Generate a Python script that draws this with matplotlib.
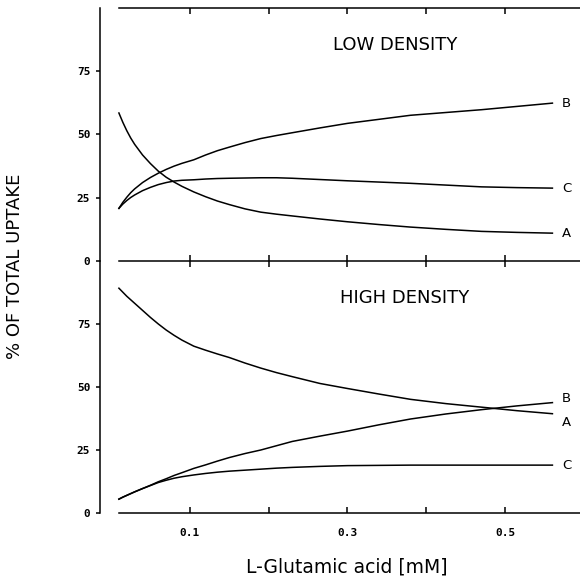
"""Uptake share (A, B, C) vs L-glutamic acid concentration at low and high density."""

import matplotlib
matplotlib.use("Agg")
import matplotlib.pyplot as plt

# concentration (mM) at which the curves were read
conc = [0.01, 0.015, 0.02, 0.025, 0.03, 0.04, 0.05, 0.06, 0.07, 0.08, 0.09,
        0.105, 0.12, 0.135, 0.15, 0.17, 0.19, 0.21, 0.23, 0.265, 0.30, 0.34,
        0.38, 0.425, 0.47, 0.515, 0.56]

# LOW DENSITY, % of total uptake
low_a = [58.5, 54.8, 51.5, 48.6, 46.1, 41.9, 38.5, 35.5, 33.1, 31.2, 29.5,
         27.3, 25.4, 23.7, 22.3, 20.6, 19.3, 18.5, 17.8, 16.6, 15.5, 14.4,
         13.4, 12.5, 11.7, 11.3, 11.0]
low_b = [20.8, 23.2, 25.2, 27.0, 28.5, 31.0, 33.0, 34.7, 36.2, 37.5, 38.6,
         40.0, 41.9, 43.6, 45.0, 46.8, 48.4, 49.6, 50.7, 52.6, 54.4, 56.0,
         57.6, 58.7, 59.8, 61.1, 62.4]
low_c = [20.8, 22.5, 23.9, 25.1, 26.1, 27.8, 29.1, 30.2, 31.0, 31.6, 31.9,
         32.1, 32.4, 32.6, 32.7, 32.8, 32.9, 32.9, 32.7, 32.2, 31.7, 31.2,
         30.7, 30.0, 29.3, 29.0, 28.8]

# HIGH DENSITY, % of total uptake
high_a = [89.2, 87.6, 86.0, 84.6, 83.2, 80.4, 77.6, 75.0, 72.6, 70.5, 68.6,
          66.2, 64.6, 63.1, 61.7, 59.5, 57.5, 55.7, 54.1, 51.4, 49.4, 47.2,
          45.1, 43.4, 42.0, 40.6, 39.4]
high_b = [5.5, 6.3, 7.0, 7.7, 8.4, 9.7, 11.0, 12.4, 13.6, 14.9, 16.0,
          17.7, 19.1, 20.6, 22.0, 23.6, 25.0, 26.7, 28.4, 30.5, 32.5, 35.0,
          37.3, 39.3, 41.0, 42.5, 43.8]
high_c = [5.5, 6.3, 7.0, 7.7, 8.4, 9.7, 10.9, 12.1, 13.0, 13.8, 14.4,
          15.1, 15.7, 16.2, 16.6, 17.0, 17.4, 17.8, 18.1, 18.5, 18.8, 18.9,
          19.0, 19.0, 19.0, 19.0, 19.0]

y_ticks = [0, 25, 50, 75]
x_ticks = [0.1, 0.2, 0.3, 0.4, 0.5]
x_labels = ["0.1", "", "0.3", "", "0.5"]

XMIN, XMAX = -0.014, 0.595
LW = 1.1
MONO = "DejaVu Sans Mono"

fig = plt.figure(figsize=(5.8, 5.77), dpi=100)
ax_top = fig.add_axes([0.1724, 0.5477, 0.8276, 0.4384])
ax_bot = fig.add_axes([0.1724, 0.1109, 0.8276, 0.4368])

for ax in (ax_top, ax_bot):
    ax.patch.set_visible(False)  # keep the shared middle line at full width
    ax.set_xlim(XMIN, XMAX)
    ax.set_ylim(0, 100)
    ax.spines["right"].set_visible(False)
    for s in ax.spines.values():
        s.set_linewidth(LW)
    ax.spines["bottom"].set_bounds(0.01, XMAX)
    ax.spines["top"].set_bounds(0.01, XMAX)
    ax.set_yticks(y_ticks)
    ax.set_yticklabels([str(v) for v in y_ticks], fontfamily=MONO,
                       fontweight="bold", fontsize=8)
    ax.tick_params(axis="y", direction="out", length=3, width=LW, pad=4)
    ax.set_xticks(x_ticks)

# top panel: ticks point inward from both the top line and the middle line
ax_top.tick_params(axis="x", direction="in", top=True, bottom=True,
                   length=4.5, width=LW, labelbottom=False)

# bottom panel: its top ticks hang below the middle line
ax_bot.spines["top"].set_visible(False)
ax_bot.set_xticklabels(x_labels, fontfamily=MONO, fontweight="bold", fontsize=8)
ax_bot.tick_params(axis="x", direction="in", top=True, bottom=True,
                   length=4, width=LW, pad=11)

panels = [
    (ax_top, "LOW DENSITY", 0.36, [(low_b, "B", 0), (low_c, "C", 0), (low_a, "A", 0)]),
    (ax_bot, "HIGH DENSITY", 0.372, [(high_a, "A", -6), (high_b, "B", 3), (high_c, "C", 0)]),
]
for ax, title, tx, series in panels:
    for vals, name, dy in series:
        ax.plot(conc, vals, color="black", linewidth=LW)
        ax.annotate(name, xy=(conc[-1], vals[-1]), xytext=(7, dy),
                    textcoords="offset points", ha="left", va="center",
                    fontsize=9.5, color="black")
    ax.text(tx, 85.4, title, ha="center", va="center", fontsize=13,
            color="black")

fig.text(0.026, 0.539, "% OF TOTAL UPTAKE", rotation=90, ha="center",
         va="center", fontsize=13)
fig.text(0.598, 0.0173, "L-Glutamic acid [mM]", ha="center", va="center",
         fontsize=13.5)

fig.savefig("out.png", dpi=100, facecolor="white")
